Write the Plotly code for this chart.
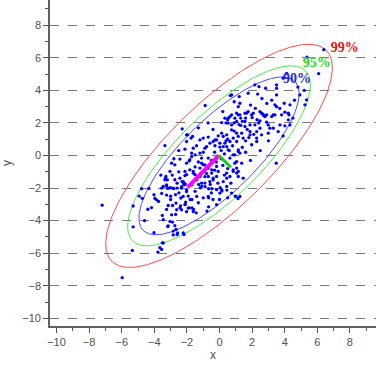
import numpy as np
import plotly.graph_objects as go

# ---- scatter data ----
pts = [
    (-7.2,-3.05),(-5.97,-7.5),(-5.3,-3.1),(-5.3,-4.38),(-5.35,-5.83),(-4.93,-2.49),(-4.74,-2.63),
    (-4.78,-2.04),(-4.33,-2.02),(-4.17,-3.2),(-4.02,-2.41),(-3.96,-2.64),(-4.02,-4.74),(-3.74,-2.82),
    (-3.51,-5.36),(-3.66,-5.66),(-3.55,-5.77),(-3.78,-5.93),(-3.51,-3.68),(-3.55,-2.33),(-3.25,-1.88),
    (-3.25,-2.43),(-3.18,-2.02),(-3.04,-1.98),(-2.9,-2.0),(-2.8,-2.02),(-3.0,-2.7),(-2.88,-3.07),
    (-3.25,-3.31),(-3.15,-4.33),(-2.88,-4.09),(-2.84,-4.64),(-2.84,-4.88),(-2.6,-4.85),(-2.67,-4.54),
    (-2.69,-3.62),(-2.43,-3.21),(-2.39,-3.1),(-2.49,-2.29),(-2.33,-1.92),(-2.18,-1.8),(-2.08,-2.86),
    (-2.1,-3.0),(-2.18,-4.85),(-2.02,-2.09),(-1.92,-2.49),(-2.02,-3.45),(-1.86,-3.21),
    (-3.31,-1.39),(-3.2,-1.5),(-3.45,-1.9),(-2.33,-2.0),(-2.6,-2.0),(-3.15,-3.07),(-3.45,-3.94),
    (-3.18,-4.36),(-2.57,-4.76),(-2.74,-4.31),(-3.04,-4.05),(-2.94,-3.64),(-2.63,-3.33),(-2.67,-2.92),
    (-2.37,-2.61),(-3.45,-5.37),
    (-1.69,-2.7),(-1.69,-3.21),(-1.59,-3.31),(-1.43,-3.52),(-1.28,-1.78),(-1.08,-1.88),(-1.18,-1.98),
    (-0.88,-1.92),(-0.67,-2.04),(-0.57,-1.78),(-0.47,-2.04),(-0.67,-2.6),(-0.67,-3.15),(-0.77,-3.41),
    (0.04,-1.98),(0.15,-2.18),(0.45,-2.12),(0.96,-2.49),(1.13,-2.64),
    (-2.2,-1.7),(-2.3,-1.6),(-2.1,-1.75),(-2.02,-0.47),(-1.5,0.04),(-1.71,-0.06),(-1.61,-0.98),
    (-1.5,-1.18),(-2.02,-1.18),(-2.12,-0.98),(-1.2,-0.77),(-1.1,-0.47),(-0.9,-0.57),(-0.69,-0.77),
    (-0.69,-1.29),(-0.48,-1.08),(-0.39,-1.39),(-0.18,-1.29),(-0.59,-1.6),(-0.9,-1.69),(-1.1,-1.69),
    (-0.18,-2.1),(0.13,-2.1),(0.02,-2.31),(0.23,-1.6),(0.44,-1.39),(0.64,-1.29),(0.84,-0.98),
    (1.15,-0.98),(0.94,-0.47),(0.64,-0.16),(0.84,0.04),(1.15,0.25),(1.45,-1.39),(1.25,-2.51),
    (-1.4,-2.51),(-1.61,-3.44),(-1.92,-3.23),(-2.12,-3.02),(-2.33,-3.33),(-2.23,-4.76),(1.0,-2.51),
    (1.05,2.6),(1.56,2.6),(1.76,2.7),(2.07,2.6),(2.48,2.7),(2.68,2.5),(2.89,2.5),(3.3,2.5),
    (3.81,2.5),(4.22,2.6),(4.22,2.19),(4.01,1.82),(2.99,1.88),(2.99,1.37),(3.3,1.68),(2.48,1.68),
    (2.17,1.88),(1.87,1.88),(1.56,2.09),(1.4,2.1),(1.3,1.85),(1.05,1.37),(1.36,1.37),(1.87,1.27),
    (2.28,1.07),(2.58,1.27),(2.28,0.86),(1.97,0.66),(1.45,1.07),(1.05,0.86),(1.15,0.35),(1.25,0.15),
    (1.36,-0.47),(1.05,-0.77),(1.05,-1.08),(1.15,-1.29),(2.0,2.33),
    (6.4,6.5),(5.36,6.04),(6.08,5.03),(4.12,5.05),(3.91,4.75),(5.34,3.42),(5.24,3.11),(4.93,3.72),
    (3.5,4.34),(3.5,4.13),(2.83,4.13),(2.42,4.23),(2.17,4.34),(1.76,3.83),(1.21,3.62),(0.74,3.72),
    (3.5,3.72),(3.4,3.11),(3.5,3.0),(3.97,3.21),(4.32,3.11),(4.01,2.66),(4.26,2.5),(4.32,1.88),
    (3.4,2.5),(3.2,2.39),(2.79,2.39),(2.58,2.6),(2.65,2.55),(2.72,2.45),(2.89,2.05),(2.48,2.13),
    (1.97,2.5),(1.66,2.6),(1.25,2.5),(1.15,3.0),(1.25,3.21),(0.74,2.5),(0.53,2.29),(1.56,1.78),
    (1.87,1.47),(2.28,1.47),(3.09,1.68),(3.71,1.88),(3.6,1.47),(1.05,2.09),(0.66,3.68),(-0.88,3.07),
    (5.2,4.0),(4.81,4.2),(3.48,-0.47),(2.34,3.77),
    (-2.29,1.64),(-1.96,1.27),(-1.75,1.07),(-3.35,0.61),(-2.02,0.86),(-1.2,0.96),(-1.0,1.07),
    (-0.69,1.13),(-0.39,0.86),(-0.18,0.96),(-0.08,1.21),(0.23,1.17),(0.44,1.27),(0.33,0.76),
    (0.44,0.55),(0.13,2.02),(0.4,2.0),(0.5,2.2),(-0.28,0.6),(0.02,0.52),(-1.61,0.45),(-0.79,0.55),
    (-3.35,-1.49),(-3.29,-1.29),(-3.25,-1.8),(-3.55,-2.0),(-2.74,-1.49),(-3.04,-0.98),(-2.74,-0.57),
    (-2.43,-1.39),(-2.23,-1.6),(-2.23,-2.51),(-2.02,-2.21),(-1.65,1.17),(-2.02,1.27),(-1.41,0.6),
    (-2.12,0.39),(-1.71,0.15),(-1.82,-0.26),(-1.1,-0.16),(-0.69,-0.16),(-1.0,-0.57),(-1.2,-1.29),
    (-0.39,-1.49),(-0.18,-0.67),(-0.48,-0.88),(-0.08,-0.98),(0.44,-1.08),(0.84,-0.88),(1.05,-0.37),
    (0.94,0.04),(0.53,0.35),(0.23,0.55),(0.02,0.76),(0.64,0.86),(0.84,1.07),(1.15,1.17),(0.74,1.58),
    (0.53,1.99),(0.33,2.29),(0.64,2.39),(0.94,2.29),(1.15,2.5),(0.74,1.88),(0.13,1.37),(-0.28,0.96),
    (-0.59,0.76),(-0.9,0.45),(-1.2,0.15),(-1.82,-0.88),(-1.61,-1.08),(-3.86,-2.72),(-0.18,-3.02),
    (0.44,-1.9),(0.74,-2.31),(-0.69,-2.51),
    (-2.94,-0.47),(-2.43,-0.22),(-2.12,-1.23),(-1.86,-0.33),
    (0.3,0.1),(0.6,0.3),(0.8,0.6),(1.4,0.5),(1.6,0.9),(1.8,1.1),(2.1,1.3),(1.7,1.6),(1.2,1.9),
    (0.9,1.5),(0.5,1.0),(0.1,0.3),(-0.3,0.2),(-0.5,-0.3),(-0.2,-0.4),(0.2,-0.6),(0.5,-0.8),
    (0.3,-1.2),(-0.1,-1.7),(-0.8,-1.1),(-1.3,-0.4),(-1.5,-0.7),(-2.5,-1.0),(-2.7,-2.4),(-1.5,-2.2),
    (-1.0,-2.6),(-0.4,-2.7),(0.7,-1.7),(1.6,0.2),(2.4,2.0),(2.2,2.9),(1.9,3.1),(0.9,3.3),(0.2,2.7),
    (-0.4,1.6),(-0.7,2.0),(-1.3,1.7),(-1.0,0.2),(-2.5,0.3),(-2.8,-0.2),(-3.6,-1.2),(-4.4,-3.3),
    (-4.6,-4.0),(1.9,-0.3),(2.5,0.3),(3.0,0.9),(3.2,3.4),(2.6,3.5),(2.9,3.2),(3.7,2.9),(4.6,3.4),
    (4.5,2.3),(3.9,1.2),(-1.4,-1.5),(-0.9,-1.3),(-0.3,-0.9),(0.1,-0.2),(0.4,0.9),(0.9,2.0),
    (1.3,2.3),(1.6,2.3),(2.3,2.2),(-2.6,-1.7),(-3.0,-2.5),(-1.7,-1.8),(-1.8,-2.7),(-1.3,-2.9),
    (-2.9,-1.2),(-0.5,-2.3),(0.5,-2.6),(0.0,-2.7),
]
data_x = [p[0] for p in pts]
data_y = [p[1] for p in pts]

# ---- confidence ellipse parameters ----
center = (-0.03, -0.02)
cov_xx, cov_yy, cov_xy = 5.25, 5.10, 4.08
levels = ["90%", "95%", "99%"]
chi2_vals = [4.605, 5.991, 9.210]
ell_colors = ["#4a4aff", "#44ee44", "#ff4a4a"]
label_colors = ["#2a2ac8", "#22dd22", "#ee1111"]
label_x = [4.75, 5.96, 7.68]
label_y = [4.67, 5.64, 6.60]

# principal axis segments
major_x = [-1.96, -0.04]
major_y = [-1.96, 0.0]
minor_x = [-0.04, 0.70]
minor_y = [0.0, -0.72]

x_ticks = list(range(-10, 9, 2))
y_ticks = list(range(-10, 9, 2))

cov = np.array([[cov_xx, cov_xy], [cov_xy, cov_yy]])
L = np.linalg.cholesky(cov)
t = np.linspace(0, 2 * np.pi, 361)
circ = np.vstack([np.cos(t), np.sin(t)])

fig = go.Figure()
for lev, c2, col in zip(levels, chi2_vals, ell_colors):
    e = L @ circ * np.sqrt(c2)
    fig.add_trace(go.Scatter(x=e[0] + center[0], y=e[1] + center[1], mode="lines",
                             line=dict(color=col, width=1), hoverinfo="skip", name=lev))

fig.add_trace(go.Scatter(x=data_x, y=data_y, mode="markers",
                         marker=dict(color="#0000ff", size=3.3, line=dict(width=0)), name="data"))
fig.add_trace(go.Scatter(x=major_x, y=major_y, mode="lines",
                         line=dict(color="#ff00ff", width=4), name="major"))
fig.add_trace(go.Scatter(x=minor_x, y=minor_y, mode="lines",
                         line=dict(color="#11cc11", width=3), name="minor"))
fig.add_trace(go.Scatter(x=label_x, y=label_y, mode="text", text=levels,
                         textfont=dict(family="Times New Roman, Liberation Serif, DejaVu Serif, serif",
                                       size=14, color=label_colors, weight="bold"),
                         hoverinfo="skip"))

axis_common = dict(
    ticks="outside", ticklen=5, tickwidth=1, tickcolor="#555555",
    showline=True, linecolor="#606060", linewidth=1.6,
    zeroline=False,
    tickfont=dict(family="Liberation Sans, Arial, sans-serif", size=11, color="#505050"),
    minor=dict(ticks="outside", ticklen=3, tickcolor="#555555", dtick=1, showgrid=False),
)

fig.update_layout(
    width=377, height=366,
    margin=dict(l=50, r=1, t=0, b=40),
    paper_bgcolor="white", plot_bgcolor="white",
    showlegend=False,
    xaxis=dict(range=[-10.4, 9.6], tickvals=x_ticks, showgrid=False,
               title=dict(text="x", standoff=4,
                          font=dict(family="Liberation Sans, Arial, sans-serif", size=12, color="#505050")),
               **axis_common),
    yaxis=dict(range=[-10.47, 9.55], tickvals=y_ticks, showgrid=True,
               gridcolor="#777777", griddash="dash", gridwidth=1,
               title=dict(text="y", standoff=8,
                          font=dict(family="Liberation Sans, Arial, sans-serif", size=12, color="#505050")),
               **axis_common),
)

fig.write_html("out.html", config={"displayModeBar": False},
               post_script="document.body.style.margin='0';")
